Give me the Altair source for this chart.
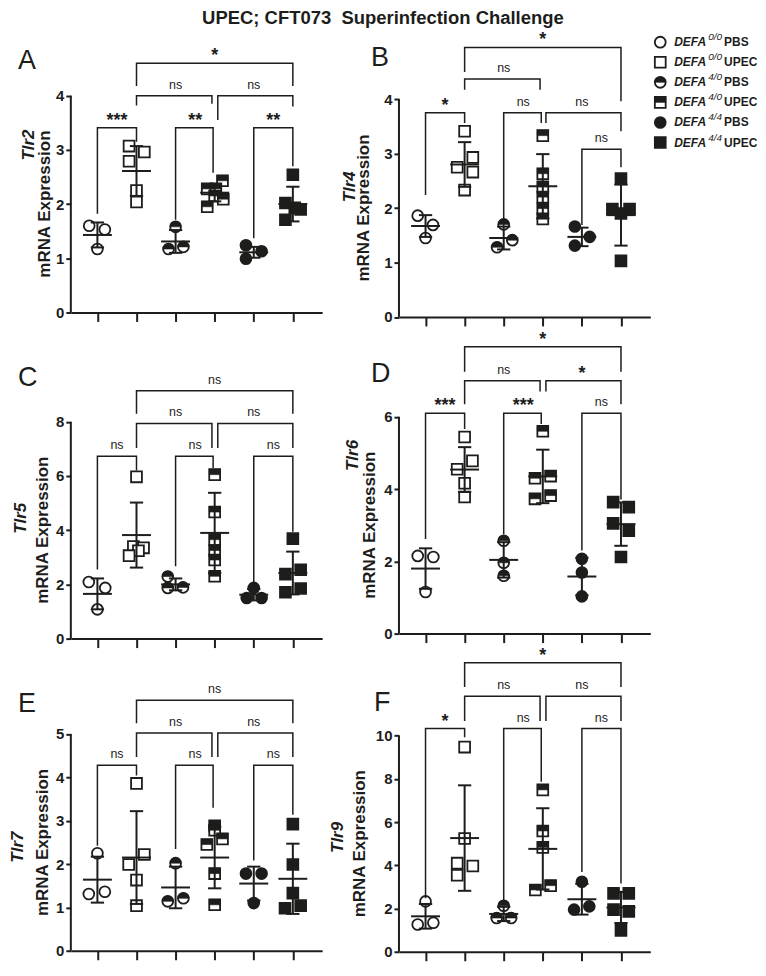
import altair as alt
import pandas as pd

FONT = "Liberation Sans"
INK = "#1d1d1b"

TITLE = "UPEC; CFT073\u00a0 Superinfection Challenge"
GROUPS = ["DEFA0/0 PBS", "DEFA0/0 UPEC", "DEFA4/0 PBS", "DEFA4/0 UPEC", "DEFA4/4 PBS", "DEFA4/4 UPEC"]
GENE_BASE = ["DEFA"] * 6
SUPERSCRIPTS = ["0/0", "0/0", "4/0", "4/0", "4/4", "4/4"]
TREATMENTS = ["PBS", "UPEC", "PBS", "UPEC", "PBS", "UPEC"]
GENES = ["Tlr2", "Tlr4", "Tlr5", "Tlr6", "Tlr7", "Tlr9"]
Y_LABEL = "mRNA Expression"

# ---------------- data ----------------
A_TICKS = [0, 1, 2, 3, 4]
A_VALUES = [[1.60, 1.53, 1.17], [3.07, 2.96, 2.79, 2.25, 2.04], [1.58, 1.17, 1.21],
            [2.43, 2.28, 2.28, 2.15, 2.09, 1.95], [1.24, 1.13, 0.99], [2.54, 2.02, 1.93, 1.90, 1.71]]
A_JITTER = [[-0.21, 0.19, 0.0], [-0.19, 0.20, -0.19, 0.0, 0.0], [0.0, -0.18, 0.20],
            [0.20, -0.19, 0.03, 0.0, 0.22, -0.19], [-0.20, 0.20, -0.20], [0.0, -0.19, 0.05, 0.20, -0.19]]
A_MEAN = [1.43, 2.61, 1.31, 2.21, 1.11, 2.00]
A_SD = [0.23, 0.46, 0.21, 0.16, 0.10, 0.32]
A_BRACKETS = [(1, 2, 3.41, 1.82, 3.15, "***"), (3, 4, 3.41, 1.71, 2.58, "**"), (5, 6, 3.41, 1.37, 2.70, "**"),
              (2, 4, 4.00, 3.82, 3.85, "ns"), (4, 6, 4.00, 3.55, 3.80, "ns"), (2, 6, 4.60, 4.18, 4.18, "*")]

B_TICKS = [0, 1, 2, 3, 4]
B_VALUES = [[1.86, 1.69, 1.45], [3.41, 2.93, 2.75, 2.66, 2.33], [1.70, 1.41, 1.28],
            [3.33, 2.63, 2.39, 2.20, 1.99, 1.80], [1.66, 1.47, 1.31], [2.54, 1.98, 1.98, 1.90, 1.03]]
B_JITTER = [[-0.20, 0.19, 0.0], [0.0, 0.21, -0.19, 0.21, 0.0], [0.0, 0.22, -0.17],
            [0.0, 0.0, 0.0, 0.0, 0.0, 0.0], [-0.18, 0.20, -0.18], [0.0, -0.22, 0.22, 0.0, 0.0]]
B_MEAN = [1.67, 2.80, 1.45, 2.40, 1.47, 1.87]
B_SD = [0.20, 0.41, 0.21, 0.59, 0.17, 0.56]
B_BRACKETS = [(1, 2, 3.75, 2.24, 3.56, "*"), (3, 4, 3.75, 1.66, 3.56, "ns"), (4, 6, 3.75, 3.56, 3.41, "ns"),
              (5, 6, 3.08, 1.69, 2.75, "ns"), (2, 4, 4.37, 4.17, 4.17, "ns"), (2, 6, 4.95, 4.50, 3.96, "*")]

C_TICKS = [0, 2, 4, 6, 8]
C_VALUES = [[2.09, 1.87, 1.08], [5.97, 3.40, 3.35, 3.24, 3.06], [2.29, 1.87, 1.89],
            [6.05, 4.67, 3.65, 3.25, 2.90, 2.30], [1.87, 1.50, 1.50], [3.69, 2.54, 2.38, 1.85, 1.71]]
C_JITTER = [[-0.22, 0.20, 0.0], [0.0, -0.08, 0.18, 0.05, -0.19], [-0.20, -0.20, 0.19],
            [0.0, 0.0, 0.0, 0.0, 0.0, 0.0], [0.0, -0.18, 0.20], [0.0, 0.20, -0.19, 0.20, -0.19]]
C_MEAN = [1.65, 3.82, 2.00, 3.90, 1.62, 2.42]
C_SD = [0.57, 1.20, 0.22, 1.48, 0.21, 0.79]
C_BRACKETS = [(1, 2, 6.73, 2.55, 6.20, "ns"), (3, 4, 6.73, 2.67, 6.30, "ns"), (5, 6, 6.73, 2.00, 3.94, "ns"),
              (2, 4, 7.94, 7.03, 7.03, "ns"), (4, 6, 7.94, 7.03, 7.03, "ns"), (2, 6, 9.15, 8.30, 8.30, "ns")]

D_TICKS = [0, 2, 4, 6]
D_VALUES = [[2.15, 2.12, 1.15], [5.44, 4.78, 4.55, 4.16, 3.78], [2.57, 1.96, 1.60],
            [5.60, 4.36, 4.30, 3.82, 3.73], [2.07, 1.69, 1.03], [3.64, 3.50, 3.05, 2.85, 2.12]]
D_JITTER = [[-0.20, 0.20, 0.0], [0.0, 0.20, -0.19, 0.0, 0.0], [0.0, 0.0, 0.0],
            [0.0, 0.20, -0.20, 0.20, -0.20], [0.0, 0.0, 0.0], [-0.20, 0.20, -0.20, 0.20, 0.0]]
D_MEAN = [1.80, 4.54, 2.04, 4.35, 1.58, 3.03]
D_SD = [0.56, 0.62, 0.49, 0.74, 0.52, 0.60]
D_BRACKETS = [(1, 2, 6.10, 2.62, 5.66, "***"), (3, 4, 6.10, 2.75, 5.80, "***"), (5, 6, 6.10, 2.30, 3.71, "ns"),
              (2, 4, 7.00, 6.35, 6.70, "ns"), (4, 6, 7.00, 6.70, 6.35, "*"), (2, 6, 7.94, 7.25, 7.25, "*")]

E_TICKS = [0, 1, 2, 3, 4, 5]
E_VALUES = [[2.25, 1.31, 1.36], [3.86, 2.22, 1.99, 1.63, 1.04], [2.02, 1.14, 1.21],
            [2.88, 2.78, 2.58, 2.45, 1.78, 1.06], [1.78, 1.78, 1.10], [2.92, 1.99, 1.33, 0.98, 1.04]]
E_JITTER = [[0.0, -0.22, 0.19], [0.0, 0.20, -0.20, 0.0, 0.0], [0.0, -0.20, 0.20],
            [0.0, 0.0, 0.20, -0.20, 0.0, 0.0], [-0.20, 0.20, 0.0], [0.0, 0.0, 0.0, -0.20, 0.20]]
E_MEAN = [1.64, 2.15, 1.46, 2.15, 1.55, 1.66]
E_SD = [0.53, 1.07, 0.48, 0.71, 0.39, 0.81]
E_BRACKETS = [(1, 2, 4.28, 2.42, 4.04, "ns"), (3, 4, 4.28, 2.35, 3.30, "ns"), (5, 6, 4.28, 2.08, 3.14, "ns"),
              (2, 4, 5.02, 4.47, 4.47, "ns"), (4, 6, 5.02, 4.47, 4.47, "ns"), (2, 6, 5.78, 5.25, 5.25, "ns")]

F_TICKS = [0, 2, 4, 6, 8, 10]
F_VALUES = [[2.33, 1.26, 1.34], [9.47, 5.24, 4.10, 3.97, 3.54], [2.13, 1.56, 1.56],
            [7.49, 5.59, 4.83, 3.06, 2.86], [3.24, 1.95, 2.10], [2.70, 2.70, 1.95, 1.87, 0.99]]
F_JITTER = [[0.0, -0.20, 0.20], [0.0, 0.0, -0.19, 0.21, -0.19], [0.0, -0.18, 0.19],
            [0.0, 0.0, 0.0, 0.20, -0.19], [0.0, -0.20, 0.19], [-0.19, 0.20, -0.19, 0.20, 0.0]]
F_MEAN = [1.64, 5.26, 1.75, 4.76, 2.43, 2.05]
F_SD = [0.57, 2.44, 0.33, 1.88, 0.71, 0.72]
F_BRACKETS = [(1, 2, 10.33, 2.48, 9.92, "*"), (3, 4, 10.33, 2.40, 7.87, "ns"), (5, 6, 10.33, 3.69, 3.16, "ns"),
              (2, 4, 11.82, 10.68, 10.68, "ns"), (4, 6, 11.82, 10.68, 10.68, "ns"), (2, 6, 13.37, 12.25, 12.25, "*")]

# ---------------- styles / layout ----------------
GROUP_SHAPES = ["circle", "square", "circle", "square", "circle", "square"]
GROUP_FILLS = ["white", "white", "white", "white", INK, INK]
HALF_CIRCLE = "M-1,0A1,1,0,0,1,1,0Z"
HALF_SQUARE = "M-1,-1H1V0H-1Z"
PT_SIZE = 118
CAP_HALF = 0.17
MEAN_HALF = 0.37
LEG_SHIFT = {(2, 4): (0.0, -0.07), (4, 6): (0.08, 0.0), (3, 4): (0.0, -0.04)}
X_DOMAIN = [0.32, 6.75]
PANEL_W = 252

LAYOUT = {
    "A": dict(height=283, ppu=54.34, letter=(-53, 38.5), tlr=(-42, 3.09), mrna=-26, spacer=-62),
    "B": dict(height=287.5, ppu=54.6, letter=(-28, 35.6), tlr=(-49, 2.39), mrna=-35, spacer=-70),
    "C": dict(height=297, ppu=27.17, letter=(-53, 44), tlr=(-50, 4.44), mrna=-28, spacer=-62),
    "D": dict(height=306, ppu=36.23, letter=(-28, 54), tlr=(-46, 4.93), mrna=-29, spacer=-70),
    "E": dict(height=283, ppu=43.47, letter=(-53, 44), tlr=(-53, 2.39), mrna=-28, spacer=-62),
    "F": dict(height=308, ppu=21.67, letter=(-25, 67), tlr=(-61, 5.29), mrna=-39, spacer=-70),
}
LEGEND_ROWS_PX = [12, 112.6]


def shape_enc():
    return alt.Shape("group:N", scale=alt.Scale(domain=GROUPS, range=GROUP_SHAPES), legend=None)


def fill_enc():
    return alt.Fill("group:N", scale=alt.Scale(domain=GROUPS, range=GROUP_FILLS), legend=None)


def make_panel(key, gene, ticks, vals, jit, means, sds, brackets):
    lay = LAYOUT[key]
    H = lay["height"]
    ymax = H / lay["ppu"]
    xs = alt.Scale(domain=X_DOMAIN, nice=False, zero=False)
    ys = alt.Scale(domain=[0, ymax], nice=False, zero=False)
    xax = alt.Axis(values=[1, 2, 3, 4, 5, 6], labels=False, title=None, grid=False, domain=True,
                   domainColor=INK, domainWidth=2, ticks=True, tickColor=INK, tickWidth=2, tickSize=9)
    yax = alt.Axis(values=ticks, title=None, grid=False, domain=False, ticks=True, tickColor=INK,
                   tickWidth=2, tickSize=5, labelFont=FONT, labelFontSize=15, labelFontWeight="bold",
                   labelColor=INK, labelPadding=2)

    def X(f):
        return alt.X(f, type="quantitative", scale=xs, axis=xax)

    def Y(f):
        return alt.Y(f, type="quantitative", scale=ys, axis=yax)

    pts = pd.DataFrame([{"group": GROUPS[i], "x": i + 1 + j, "y": v}
                        for i in range(6) for v, j in zip(vals[i], jit[i])])
    base = alt.Chart(pts).mark_point(filled=True, size=PT_SIZE, stroke=INK, strokeWidth=1.8, opacity=1).encode(
        x=X("x"), y=Y("y"), shape=shape_enc(), fill=fill_enc())
    half_c = alt.Chart(pts[pts.group == GROUPS[2]]).mark_point(
        filled=True, shape=HALF_CIRCLE, size=PT_SIZE, fill=INK, stroke=INK, strokeWidth=0.6, opacity=1).encode(
        x=X("x"), y=Y("y"))
    half_s = alt.Chart(pts[pts.group == GROUPS[3]]).mark_point(
        filled=True, shape=HALF_SQUARE, size=PT_SIZE, fill=INK, stroke=INK, strokeWidth=0.6, opacity=1).encode(
        x=X("x"), y=Y("y"))

    err = pd.DataFrame({"x": list(range(1, 7)), "mean": means, "sd": sds})
    err["lo"] = err["mean"] - err["sd"]
    err["hi"] = err["mean"] + err["sd"]
    err["c1"] = err["x"] - CAP_HALF
    err["c2"] = err["x"] + CAP_HALF
    err["m1"] = err["x"] - MEAN_HALF
    err["m2"] = err["x"] + MEAN_HALF
    ech = alt.Chart(err)
    vline = ech.mark_rule(color=INK, strokeWidth=2).encode(x=X("x"), y=Y("lo"), y2="hi")
    cap_lo = ech.mark_rule(color=INK, strokeWidth=2).encode(x=X("c1"), x2="c2", y=Y("lo"))
    cap_hi = ech.mark_rule(color=INK, strokeWidth=2).encode(x=X("c1"), x2="c2", y=Y("hi"))
    mline = ech.mark_rule(color=INK, strokeWidth=2).encode(x=X("m1"), x2="m2", y=Y("mean"))

    brows, lrows = [], []
    for bi, (g1, g2, top, e1, e2, lab) in enumerate(brackets):
        d1, d2 = LEG_SHIFT.get((g1, g2), (0.0, 0.0))
        xl, xr = g1 + d1, g2 + d2
        for k, (bx, by) in enumerate([(xl, e1), (xl, top), (xr, top), (xr, e2)]):
            brows.append({"bid": bi, "ord": k, "x": bx, "y": by})
        lrows.append({"x": (g1 + g2) / 2, "y": top, "label": lab, "star": lab != "ns"})
    bdf = pd.DataFrame(brows)
    ldf = pd.DataFrame(lrows)
    blines = alt.Chart(bdf).mark_line(color=INK, strokeWidth=1.5).encode(
        x=X("x"), y=Y("y"), detail="bid:N", order="ord:Q")
    ns_txt = alt.Chart(ldf[~ldf.star]).mark_text(font=FONT, fontSize=12.5, color=INK, dy=-11,
                                                 baseline="middle", align="center").encode(
        x=X("x"), y=Y("y"), text="label:N")
    st_txt = alt.Chart(ldf[ldf.star]).mark_text(font=FONT, fontSize=18, fontWeight="bold", color=INK, dy=-7,
                                                baseline="middle", align="center").encode(
        x=X("x"), y=Y("y"), text="label:N")

    ax = pd.DataFrame({"y0": [0], "y1": [ticks[-1]], "mid": [ticks[-1] / 2], "tlr": [lay["tlr"][1]]})
    ach = alt.Chart(ax)
    yline = ach.mark_rule(color=INK, strokeWidth=2).encode(x=alt.value(0), y=Y("y0"), y2="y1")
    t_mrna = ach.mark_text(text=Y_LABEL, font=FONT, fontSize=17, fontWeight="bold", angle=270, color=INK,
                           align="center", baseline="middle").encode(x=alt.value(lay["mrna"]), y=Y("mid"))
    t_gene = ach.mark_text(text=gene, font=FONT, fontSize=17, fontWeight="bold", fontStyle="italic", angle=270,
                           color=INK, align="center", baseline="middle").encode(x=alt.value(lay["tlr"][0]),
                                                                                 y=Y("tlr"))
    t_letter = ach.mark_text(text=key, font=FONT, fontSize=27, color=INK, align="left",
                             baseline="alphabetic").encode(x=alt.value(lay["letter"][0]),
                                                           y=alt.value(lay["letter"][1]))
    spacer = ach.mark_point(opacity=0, size=1).encode(x=alt.value(lay["spacer"]), y=alt.value(H / 2))

    return alt.layer(spacer, base, half_c, half_s, vline, cap_lo, cap_hi, mline, blines, ns_txt, st_txt,
                     yline, t_mrna, t_gene, t_letter).properties(width=PANEL_W, height=H)


def make_legend(height):
    ldf = pd.DataFrame({"group": GROUPS, "row": list(range(6)), "base": GENE_BASE,
                        "sup": SUPERSCRIPTS, "tail": TREATMENTS})
    ly = alt.Y("row:Q", scale=alt.Scale(domain=[0, 5], range=LEGEND_ROWS_PX), axis=None)
    ch = alt.Chart(ldf)
    sym = ch.mark_point(filled=True, size=PT_SIZE, stroke=INK, strokeWidth=1.8, opacity=1).encode(
        x=alt.value(8), y=ly, shape=shape_enc(), fill=fill_enc())
    hc = alt.Chart(ldf[ldf.group == GROUPS[2]]).mark_point(
        filled=True, shape=HALF_CIRCLE, size=PT_SIZE, fill=INK, stroke=INK, strokeWidth=0.6, opacity=1).encode(
        x=alt.value(8), y=ly)
    hs = alt.Chart(ldf[ldf.group == GROUPS[3]]).mark_point(
        filled=True, shape=HALF_SQUARE, size=PT_SIZE, fill=INK, stroke=INK, strokeWidth=0.6, opacity=1).encode(
        x=alt.value(8), y=ly)
    t1 = ch.mark_text(font=FONT, fontSize=12, fontWeight="bold", fontStyle="italic", color=INK,
                      align="left", baseline="middle").encode(x=alt.value(22), y=ly, text="base:N")
    t2 = ch.mark_text(font=FONT, fontSize=10, fontStyle="italic", color=INK, dy=-5,
                      align="left", baseline="middle").encode(x=alt.value(56), y=ly, text="sup:N")
    t3 = ch.mark_text(font=FONT, fontSize=12, fontWeight="bold", color=INK,
                      align="left", baseline="middle").encode(x=alt.value(72), y=ly, text="tail:N")
    return alt.layer(sym, hc, hs, t1, t2, t3).properties(width=10, height=height)


pA = make_panel("A", GENES[0], A_TICKS, A_VALUES, A_JITTER, A_MEAN, A_SD, A_BRACKETS)
pB = make_panel("B", GENES[1], B_TICKS, B_VALUES, B_JITTER, B_MEAN, B_SD, B_BRACKETS)
pC = make_panel("C", GENES[2], C_TICKS, C_VALUES, C_JITTER, C_MEAN, C_SD, C_BRACKETS)
pD = make_panel("D", GENES[3], D_TICKS, D_VALUES, D_JITTER, D_MEAN, D_SD, D_BRACKETS)
pE = make_panel("E", GENES[4], E_TICKS, E_VALUES, E_JITTER, E_MEAN, E_SD, E_BRACKETS)
pF = make_panel("F", GENES[5], F_TICKS, F_VALUES, F_JITTER, F_MEAN, F_SD, F_BRACKETS)
legend = make_legend(LAYOUT["B"]["height"])

left = alt.vconcat(pA, pC, pE, spacing=20)
right = alt.vconcat(alt.hconcat(pB, legend, spacing=0), pD, pF, spacing=1)

chart = alt.hconcat(left, right, spacing=6).properties(
    title=alt.TitleParams(TITLE, font=FONT, fontSize=18.5, fontWeight="bold", color=INK, anchor="middle",
                          offset=-1.5, dy=-4),
    padding={"left": 0, "top": 0, "right": 0, "bottom": 0},
).configure_view(stroke=None)

chart.save("out.html", embed_options={"renderer": "svg", "actions": False})
